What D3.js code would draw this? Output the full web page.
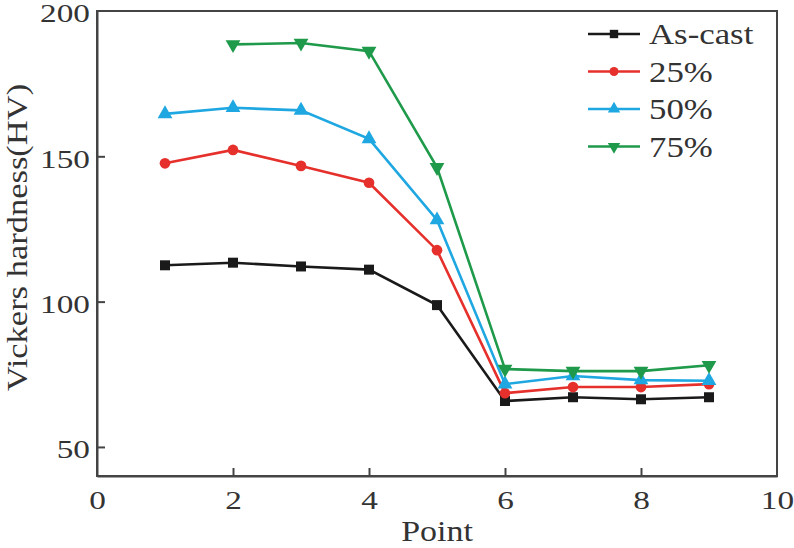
<!DOCTYPE html>
<html>
<head>
<meta charset="utf-8">
<script src="https://cdn.jsdelivr.net/npm/d3@7"></script>
<style>
  body { margin: 0; background: #fff; }
  text { font-family: "Liberation Serif", "Times New Roman", serif; fill: #333; }
</style>
</head>
<body>
<div id="chart"></div>
<script>
// data
const points = [1, 2, 3, 4, 5, 6, 7, 8, 9];
const asCast = [112.5, 113.4, 112.1, 111.0, 98.8, 65.8, 67.1, 66.4, 67.1];
const pct25 = [147.6, 152.2, 146.7, 140.9, 117.7, 68.5, 70.6, 70.6, 71.6];
const pct50 = [164.6, 166.7, 165.8, 156.0, 128.1, 71.6, 74.4, 73.0, 72.8];
const pct75 = [null, 188.5, 189.0, 186.2, 146.2, 76.8, 76.1, 76.1, 78.1];
const seriesNames = ["As-cast", "25%", "50%", "75%"];
const xTicks = [0, 2, 4, 6, 8, 10];
const yTicks = [50, 100, 150, 200];

const series = [
  { name: seriesNames[0], values: asCast, color: "#1a1a1a", symbol: d3.symbolSquare, size: 100, rot: 0 },
  { name: seriesNames[1], values: pct25, color: "#e5302b", symbol: d3.symbolCircle, size: 90, rot: 0 },
  { name: seriesNames[2], values: pct50, color: "#1ea7e1", symbol: d3.symbolTriangle, size: 95, rot: 0 },
  { name: seriesNames[3], values: pct75, color: "#1e9a4a", symbol: d3.symbolTriangle, size: 95, rot: 180 }
];

const W = 794, H = 548;
const margin = { left: 97, right: 17, top: 11, bottom: 72 };

const svg = d3.select("#chart").append("svg")
  .attr("width", W).attr("height", H);

const x = d3.scaleLinear().domain([0, 10]).range([margin.left, W - margin.right]);
const y = d3.scaleLinear().domain([40, 200]).range([H - margin.bottom, margin.top]);

// the font in the picture is wider than Liberation Serif, stretch it a bit
function widen(sel, k) {
  sel.each(function () {
    const t = d3.select(this);
    const tx = +t.attr("x") || 0;
    t.attr("transform", `translate(${tx},0) scale(${k},1) translate(${-tx},0)`);
  });
}

// frame
svg.append("rect")
  .attr("x", x(0)).attr("y", y(200))
  .attr("width", x(10) - x(0)).attr("height", y(40) - y(200))
  .attr("fill", "none").attr("stroke", "#444").attr("stroke-width", 2);

// axes, ticks pointing inwards
const xAxis = svg.append("g")
  .attr("transform", `translate(0,${y(40)})`)
  .call(d3.axisBottom(x).tickValues(xTicks).tickSizeInner(-8).tickSizeOuter(0).tickPadding(15));
const yAxis = svg.append("g")
  .attr("transform", `translate(${x(0)},0)`)
  .call(d3.axisLeft(y).tickValues(yTicks).tickSizeInner(-8).tickSizeOuter(0).tickPadding(7));

[xAxis, yAxis].forEach(a => {
  a.select(".domain").attr("stroke", "#444").attr("stroke-width", 2);
  a.selectAll(".tick line").attr("stroke", "#444").attr("stroke-width", 2);
  a.selectAll(".tick text")
    .style("font-family", "Liberation Serif, serif")
    .style("font-size", "26px").attr("fill", "#333");
  widen(a.selectAll(".tick text"), 1.28);
});
yAxis.selectAll(".tick text").attr("dy", "0.42em");
// tick at 200 sits on the frame, keep label only
yAxis.selectAll(".tick").filter(d => d === 200).select("line").remove();
xAxis.selectAll(".tick").filter(d => d === 0 || d === 10).select("line").remove();

// axis titles
svg.append("text")
  .attr("transform", `translate(${(x(0) + x(10)) / 2},541) scale(1.17,1)`)
  .attr("text-anchor", "middle")
  .style("font-size", "29px")
  .text("Point");

svg.append("text")
  .attr("transform", `translate(27,${(y(40) + y(200)) / 2 - 6}) rotate(-90) scale(1.19,1)`)
  .attr("text-anchor", "middle")
  .style("font-size", "29px")
  .text("Vickers hardness(HV)");

const line = d3.line()
  .defined(d => d.v != null)
  .x(d => x(d.p))
  .y(d => y(d.v));

series.forEach(s => {
  const data = points.map((p, i) => ({ p: p, v: s.values[i] }));
  svg.append("path")
    .datum(data)
    .attr("d", line)
    .attr("fill", "none")
    .attr("stroke", s.color)
    .attr("stroke-width", 2.6);
  svg.append("g").selectAll("path")
    .data(data.filter(d => d.v != null))
    .join("path")
    .attr("d", d3.symbol().type(s.symbol).size(s.size))
    .attr("transform", d => `translate(${x(d.p)},${y(d.v)}) rotate(${s.rot})`)
    .attr("fill", s.color);
});

// legend
const legend = svg.append("g").attr("transform", "translate(588,34)");
series.forEach((s, i) => {
  const g = legend.append("g").attr("transform", `translate(0,${i * 37.5})`);
  g.append("line").attr("x1", 0).attr("x2", 52).attr("y1", 0).attr("y2", 0)
    .attr("stroke", s.color).attr("stroke-width", 2.6);
  g.append("path")
    .attr("d", d3.symbol().type(s.symbol).size(s.size * 0.7))
    .attr("transform", `translate(26,0) rotate(${s.rot})`)
    .attr("fill", s.color);
  g.append("text")
    .attr("transform", "translate(61,10) scale(1.2,1)")
    .style("font-size", "29px")
    .text(s.name);
});
</script>
</body>
</html>
